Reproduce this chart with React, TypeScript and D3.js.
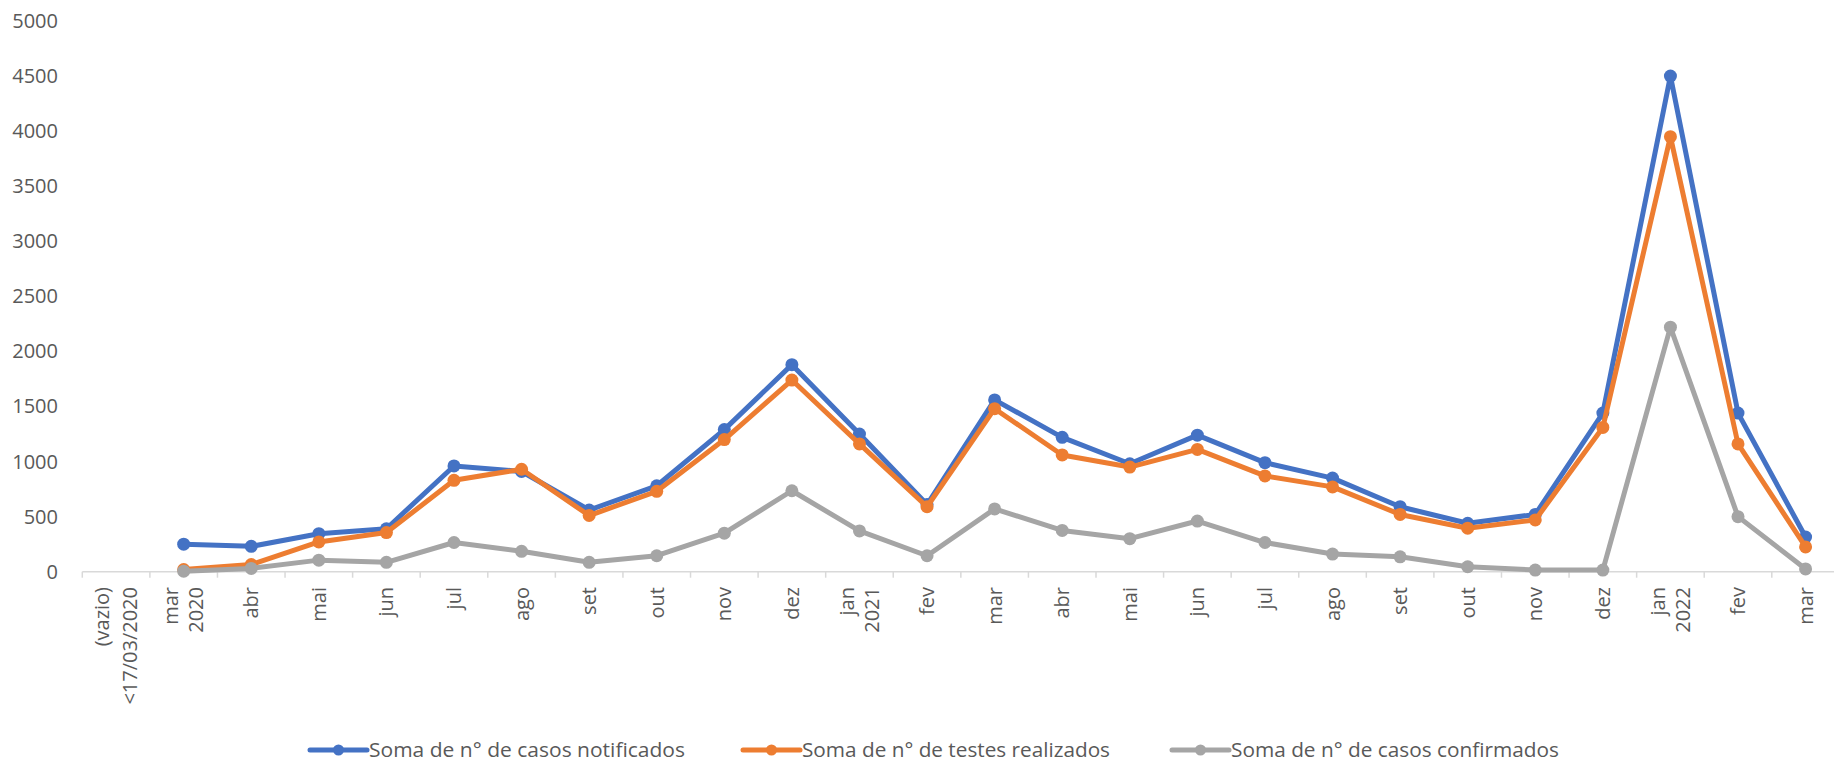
import * as d3 from 'd3';

// category labels (multi-line labels split by \n)
const categories: string[] = [
  '(vazio)\n<17/03/2020',
  'mar\n2020', 'abr', 'mai', 'jun', 'jul', 'ago', 'set', 'out', 'nov', 'dez',
  'jan\n2021', 'fev', 'mar', 'abr', 'mai', 'jun', 'jul', 'ago', 'set', 'out', 'nov', 'dez',
  'jan\n2022', 'fev', 'mar',
];

// null = no value for that category
const notificados: (number | null)[] = [
  null, 250, 230, 345, 390, 960, 910, 560, 780, 1290, 1880,
  1250, 610, 1560, 1220, 980, 1240, 990, 850, 590, 440, 520, 1440,
  4500, 1440, 315,
];
const testes: (number | null)[] = [
  null, 20, 65, 270, 355, 830, 930, 510, 730, 1200, 1740,
  1160, 590, 1480, 1060, 950, 1110, 870, 770, 520, 395, 470, 1310,
  3950, 1160, 225,
];
const confirmados: (number | null)[] = [
  null, 5, 30, 105, 85, 265, 185, 85, 145, 350, 735,
  370, 145, 570, 375, 300, 460, 265, 160, 135, 45, 15, 15,
  2220, 500, 25,
];

const yTicks = [0, 500, 1000, 1500, 2000, 2500, 3000, 3500, 4000, 4500, 5000];

const series = [
  { name: 'Soma de n° de casos notificados', values: notificados, color: '#4472C4' },
  { name: 'Soma de n° de testes realizados', values: testes, color: '#ED7D31' },
  { name: 'Soma de n° de casos confirmados', values: confirmados, color: '#A5A5A5' },
];

const W = 1834;
const H = 762;
const axisLeft = 82.3;
const band = 67.58;
const font = '"Open Sans", "Liberation Sans", sans-serif';
const textColor = '#595959';

// legend layout
const legendX = [310, 743, 1172];
const legendTextW = [316, 308, 328];

const App = () => {
  const x = d3.scaleBand<string>()
    .domain(categories.map((_, i) => String(i)))
    .range([axisLeft, axisLeft + band * categories.length])
    .paddingInner(0)
    .paddingOuter(0);
  const y = d3.scaleLinear().domain([0, 5000]).range([571.7, 21]);
  const cx = (i: number) => (x(String(i)) || 0) + x.bandwidth() / 2;

  const line = d3.line<number | null>()
    .defined((d) => d !== null)
    .x((_, i) => cx(i))
    .y((d) => y(d as number));

  return (
    <svg
      width={W}
      height={H}
      style={{ position: 'absolute', left: 0, top: 0, background: '#fff' }}
      fontFamily={font}
    >
      {/* y axis labels */}
      {yTicks.map((t) => (
        <text key={t} x={58} y={y(t)} dy="0.35em" textAnchor="end" fontSize={20} fill={textColor}>
          {t}
        </text>
      ))}

      {/* x axis line and ticks */}
      <line x1={axisLeft} x2={W} y1={y(0)} y2={y(0)} stroke="#D9D9D9" strokeWidth={1.5} />
      {d3.range(categories.length + 1).map((i) => (
        <line
          key={i}
          x1={axisLeft + i * band}
          x2={axisLeft + i * band}
          y1={y(0)}
          y2={y(0) + 6}
          stroke="#D9D9D9"
          strokeWidth={1.5}
        />
      ))}

      {/* x axis labels */}
      {categories.map((c, i) => {
        const lines = c.split('\n');
        const gap = lines.length > 1 ? (i === 0 ? 28 : 25) : 0;
        return lines.map((ln, j) => {
          const lx = cx(i) - gap / 2 + j * gap;
          const ly = 587;
          return (
            <text
              key={`${i}-${j}`}
              transform={`translate(${lx},${ly}) rotate(-90)`}
              dy="0.35em"
              textAnchor="end"
              fontSize={20}
              fill={textColor}
            >
              {ln}
            </text>
          );
        });
      })}

      {/* series lines */}
      {series.map((s) => (
        <g key={s.name}>
          <path d={line(s.values) || ''} fill="none" stroke={s.color} strokeWidth={5} strokeLinejoin="round" />
          {s.values.map((v, i) =>
            v === null ? null : <circle key={i} cx={cx(i)} cy={y(v)} r={6.5} fill={s.color} />
          )}
        </g>
      ))}

      {/* legend */}
      {series.map((s, k) => (
        <g key={s.name} transform={`translate(${legendX[k]},750)`}>
          <line x1={0} x2={57} y1={0} y2={0} stroke={s.color} strokeWidth={5} strokeLinecap="round" />
          <circle cx={28.5} cy={0} r={5.5} fill={s.color} />
          <text
            x={59}
            dy="0.35em"
            fontSize={20.5}
            fill={textColor}
            textLength={legendTextW[k]}
            lengthAdjust="spacingAndGlyphs"
          >
            {s.name}
          </text>
        </g>
      ))}
    </svg>
  );
};

export default App;
